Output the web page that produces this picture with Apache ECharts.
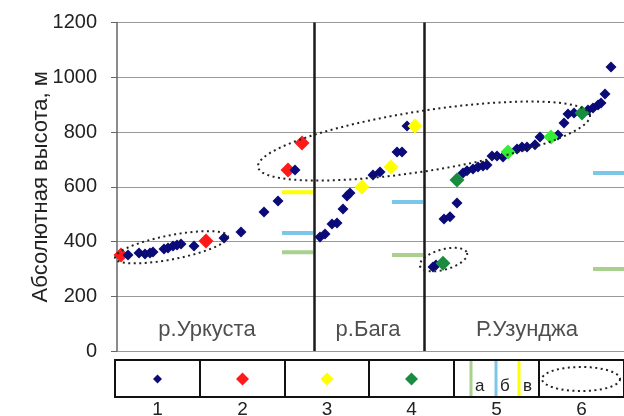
<!DOCTYPE html>
<html>
<head>
<meta charset="utf-8">
<script src="https://cdn.jsdelivr.net/npm/echarts@6/dist/echarts.min.js"></script>
<style>
    html, body { margin: 0; padding: 0; background: #fff; }
    #chart { width: 624px; height: 416px; }
</style>
</head>
<body>
<div id="chart"></div>
<script>
// [расстояние по профилю (усл. ед.), абсолютная высота, м]
var pointsBlue = [
    [11, 351], [22, 358], [28, 354], [33, 358], [36, 362], [47, 373], [51, 376], [56, 384], [60, 387], [64, 391],
    [77, 384], [107, 413], [124, 435], [147, 508], [161, 548], [178, 661],
    [203, 416], [208, 427], [215, 464], [220, 468], [226, 519], [230, 566], [233, 577], [256, 643], [263, 654],
    [280, 727], [285, 727], [290, 822],
    [316, 307], [319, 314], [327, 482], [333, 490], [340, 541], [346, 650], [350, 658], [356, 665], [361, 672],
    [366, 676], [370, 679], [375, 712], [380, 712], [386, 709], [400, 738], [405, 745], [410, 745], [418, 753],
    [423, 782], [441, 789], [447, 833], [451, 866], [457, 869], [471, 880], [476, 888], [481, 899], [484, 906],
    [488, 939], [494, 1037]
];
var pointsRed = [[4, 351], [89, 402], [171, 661], [185, 760]];
var pointsYellow = [[245, 599], [274, 672], [298, 822]];
var pointsGreen = [[326, 321], [340, 625], [465, 869]];
var pointsLightGreen = [[391, 727], [434, 782]];

// уровни: [x начала, x конца, высота]
var levelsA = [[165, 196, 361], [275, 306, 351], [476, 507, 300]];
var levelsB = [[165, 196, 431], [275, 306, 544], [476, 507, 650]];
var levelsV = [[165, 196, 580]];

// эллипсы: [x1, y1, x2, y2, малая полуось по высоте]
var ellipses = [
    [-2, 339, 111, 419, 44],
    [141, 672, 473, 862, 110],
    [303, 310, 350, 358, 37]
];

var rivers = ['р.Уркуста', 'р.Бага', 'Р.Узунджа'];
var riverX = [90, 251, 410];
var riverBounds = [197, 307];
var legendNums = ['1', '2', '3', '4', '5', '6'];
var legendSub = ['а', 'б', 'в'];

var FONT = "'Liberation Sans', Arial, sans-serif";
var C_BLUE = '#0a0a78', C_RED = '#ff1a1a', C_YELLOW = '#ffff00', C_GREEN = '#1a8c40', C_LGREEN = '#33ee33';
var C_LA = '#a9d08e', C_LB = '#7cc6e8', C_LV = '#ffff00';

function ellipsePts(cx, cy, a, b, ang) {
    var pts = [];
    for (var i = 0; i < 90; i++) {
        var t = i / 90 * Math.PI * 2;
        var x = a * Math.cos(t), y = b * Math.sin(t);
        pts.push([cx + x * Math.cos(ang) - y * Math.sin(ang), cy + x * Math.sin(ang) + y * Math.cos(ang)]);
    }
    return pts;
}

var dotted = { fill: 'none', stroke: '#222', lineWidth: 2, lineDash: [2, 3.5] };

function levelSeries(list, color) {
    return list.map(function (l) {
        return {
            type: 'line', data: [[l[0], l[2]], [l[1], l[2]]],
            symbol: 'none', silent: true, z: 3,
            lineStyle: { color: color, width: 4 }
        };
    });
}

function diamonds(data, color, size, z) {
    return { type: 'scatter', data: data, symbol: 'diamond', symbolSize: size, z: z,
        itemStyle: { color: color, opacity: 1 } };
}

var chart = echarts.init(document.getElementById('chart'));

// легенда-таблица
var cellX = [115, 200, 285, 369, 454, 539, 624];
var gr = [];
gr.push({ type: 'rect', shape: { x: cellX[0], y: 360, width: cellX[6] - cellX[0], height: 37 },
    style: { fill: 'none', stroke: '#111', lineWidth: 2 } });
for (var i = 1; i < 6; i++) {
    gr.push({ type: 'line', shape: { x1: cellX[i], y1: 360, x2: cellX[i], y2: 397 }, style: { stroke: '#111', lineWidth: 2 } });
}
var symColors = [C_BLUE, C_RED, C_YELLOW, C_GREEN];
var symSizes = [4.5, 6.5, 6.5, 6.5];
for (var i = 0; i < 4; i++) {
    var cx = (cellX[i] + cellX[i + 1]) / 2, s = symSizes[i];
    gr.push({ type: 'polygon', shape: { points: [[cx, 379 - s], [cx + s, 379], [cx, 379 + s], [cx - s, 379]] },
        style: { fill: symColors[i] } });
}
var subX = [471, 496, 519], subC = [C_LA, C_LB, C_LV];
for (var i = 0; i < 3; i++) {
    gr.push({ type: 'line', shape: { x1: subX[i], y1: 361, x2: subX[i], y2: 396 }, style: { stroke: subC[i], lineWidth: 3 } });
    gr.push({ type: 'text', x: subX[i] + 4, y: 386, style: { text: legendSub[i], font: '17px ' + FONT, fill: '#222', verticalAlign: 'middle' } });
}
gr.push({ type: 'polygon', shape: { points: ellipsePts(581, 379, 39, 12, 0) }, style: dotted });
for (var i = 0; i < 6; i++) {
    gr.push({ type: 'text', x: (cellX[i] + cellX[i + 1]) / 2, y: 410,
        style: { text: legendNums[i], font: '19px ' + FONT, fill: '#222', align: 'center', verticalAlign: 'middle' } });
}

var series = [
    diamonds(pointsRed, C_RED, 15, 4),
    diamonds(pointsBlue, C_BLUE, 11, 5),
    diamonds(pointsYellow, C_YELLOW, 15, 6),
    diamonds(pointsGreen, C_GREEN, 15, 6),
    diamonds(pointsLightGreen, C_LGREEN, 15, 6),
    {
        type: 'custom', data: ellipses, z: 7, silent: true,
        encode: { x: [0, 2], y: [1, 3] },
        renderItem: function (params, api) {
            var p1 = api.coord([api.value(0), api.value(1)]);
            var p2 = api.coord([api.value(2), api.value(3)]);
            var b = api.size([0, api.value(4)])[1];
            var dx = p2[0] - p1[0], dy = p2[1] - p1[1];
            var a = Math.sqrt(dx * dx + dy * dy) / 2;
            return { type: 'polygon', shape: { points: ellipsePts((p1[0] + p2[0]) / 2, (p1[1] + p2[1]) / 2, a, b, Math.atan2(dy, dx)) },
                style: dotted };
        }
    },
    {
        type: 'scatter', symbolSize: 0, silent: true, z: 8,
        data: rivers.map(function (r, i) { return { value: [riverX[i], 77], name: r }; }),
        label: { show: true, position: 'inside', formatter: '{b}', fontSize: 22, fontFamily: FONT, color: '#222' },
        markLine: {
            silent: true, symbol: 'none', label: { show: false },
            lineStyle: { color: '#1a1a1a', width: 2.5, type: 'solid' },
            data: riverBounds.map(function (x) { return { xAxis: x }; })
        }
    }
].concat(levelSeries(levelsA, C_LA), levelSeries(levelsB, C_LB), levelSeries(levelsV, C_LV));

var option = {
    animation: false,
    grid: { left: 117, right: 0, top: 22.5, bottom: 65 },
    xAxis: {
        type: 'value', min: 0, max: 507,
        axisLine: { show: false }, axisTick: { show: false }, axisLabel: { show: false }, splitLine: { show: false }
    },
    yAxis: {
        type: 'value', min: 0, max: 1200, interval: 200,
        name: 'Абсолютная высота, м', nameLocation: 'middle', nameGap: 65, nameMoveOverlap: false,
        nameTextStyle: { fontSize: 22, fontFamily: FONT, color: '#222' },
        axisLine: { show: true, lineStyle: { color: '#666', width: 1.5 } },
        axisTick: { show: true, length: 6, lineStyle: { color: '#666' } },
        axisLabel: { fontSize: 20, fontFamily: FONT, color: '#222', margin: 20,
            formatter: function (v) { return String(v); } },
        splitLine: { lineStyle: { color: '#999', width: 1 } }
    },
    graphic: gr,
    series: series
};
chart.setOption(option);
</script>
</body>
</html>
